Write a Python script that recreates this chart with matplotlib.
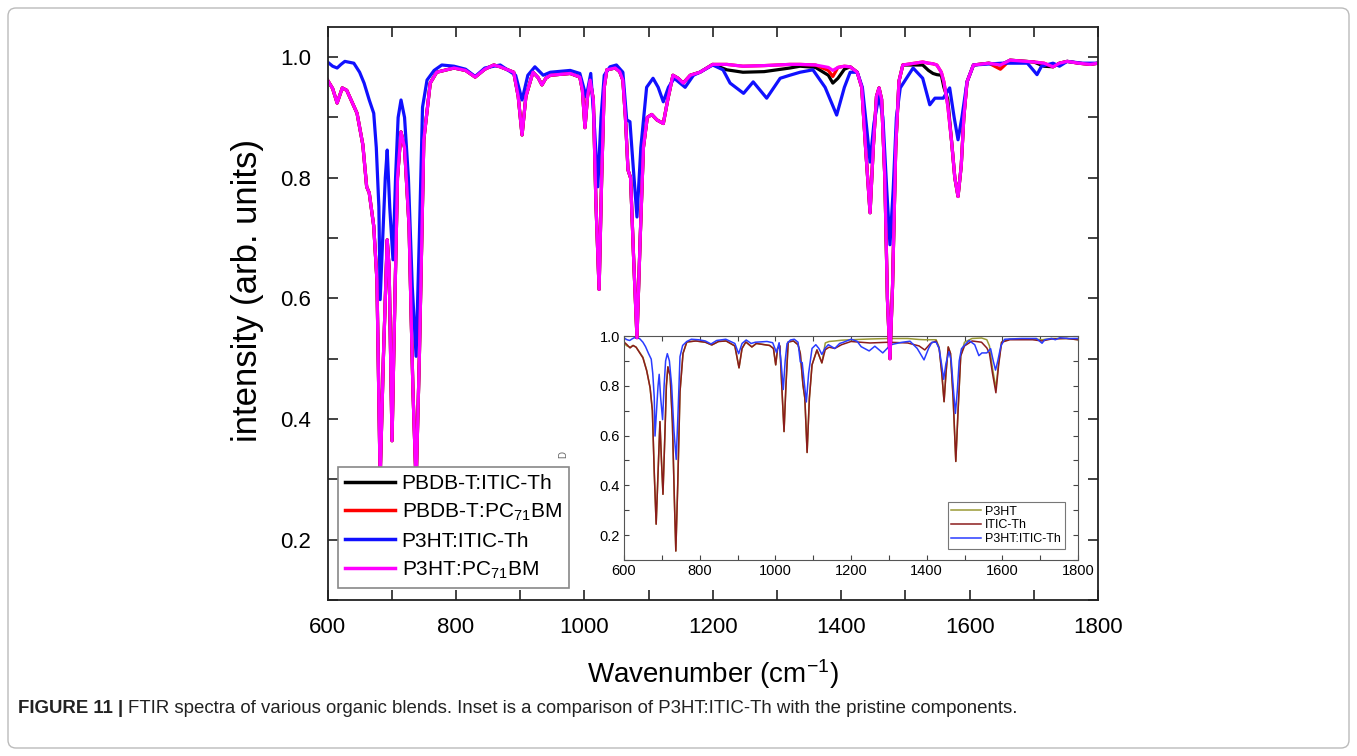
import matplotlib
matplotlib.use('Agg')
import matplotlib.pyplot as plt
from matplotlib.patches import FancyBboxPatch
from matplotlib.transforms import IdentityTransform
from matplotlib.ticker import MultipleLocator

plt.rcParams['font.family'] = ['Liberation Sans', 'DejaVu Sans']
plt.rcParams['mathtext.fontset'] = 'custom'
plt.rcParams['mathtext.rm'] = 'Liberation Sans'
plt.rcParams['mathtext.default'] = 'regular'

# main panel, shared wavenumber grid for the three PC71BM-like traces
wn_main = [600, 608, 615, 623, 630, 646, 655, 661, 665, 672,
           677, 682, 687, 693, 696, 700.5, 704, 709, 714.5, 720,
           727, 733, 738, 743, 750, 760, 770, 797, 815, 830,
           845, 859, 869, 890, 897, 903, 909, 920, 928, 934,
           940, 947, 978, 993, 997, 1001, 1005, 1009, 1014, 1018,
           1023, 1027, 1031, 1035, 1048, 1055, 1060, 1064, 1068, 1072,
           1077, 1082, 1087, 1092, 1098, 1105, 1113, 1123, 1130, 1138,
           1146, 1154, 1165, 1180, 1200, 1222, 1247, 1280, 1320, 1336,
           1360, 1380, 1387, 1395, 1405, 1414, 1425, 1432, 1438, 1445,
           1450, 1455, 1459, 1463, 1468, 1472, 1476, 1480, 1485, 1490,
           1496, 1527, 1536, 1543, 1549, 1556, 1560, 1566, 1572, 1577,
           1582, 1587, 1591, 1596, 1606, 1630, 1648, 1663, 1700, 1716,
           1730, 1740, 1752, 1770, 1788, 1800]

p3ht_pcbm = [0.962, 0.948, 0.924, 0.949, 0.945, 0.907, 0.855, 0.785, 0.775, 0.720,
             0.630, 0.300, 0.500, 0.697, 0.650, 0.364, 0.550, 0.800, 0.876, 0.850,
             0.720, 0.450, 0.290, 0.500, 0.863, 0.957, 0.975, 0.982, 0.978, 0.967,
             0.980, 0.987, 0.984, 0.975, 0.935, 0.871, 0.935, 0.975, 0.966, 0.954,
             0.965, 0.970, 0.973, 0.967, 0.945, 0.883, 0.935, 0.962, 0.930, 0.760,
             0.615, 0.800, 0.950, 0.979, 0.982, 0.976, 0.962, 0.900, 0.813, 0.800,
             0.660, 0.535, 0.700, 0.850, 0.900, 0.905, 0.896, 0.890, 0.930, 0.970,
             0.965, 0.957, 0.970, 0.975, 0.988, 0.988, 0.985, 0.986, 0.988, 0.988,
             0.987, 0.983, 0.978, 0.983, 0.985, 0.984, 0.975, 0.950, 0.850, 0.742,
             0.850, 0.935, 0.949, 0.930, 0.800, 0.600, 0.500, 0.620, 0.850, 0.960,
             0.987, 0.992, 0.990, 0.989, 0.987, 0.975, 0.959, 0.920, 0.860, 0.800,
             0.769, 0.820, 0.900, 0.959, 0.987, 0.990, 0.987, 0.995, 0.992, 0.990,
             0.984, 0.990, 0.993, 0.990, 0.988, 0.990]

pbdb_pcbm = [0.962, 0.948, 0.924, 0.949, 0.945, 0.907, 0.855, 0.785, 0.775, 0.720,
             0.630, 0.300, 0.500, 0.697, 0.650, 0.364, 0.550, 0.800, 0.876, 0.850,
             0.720, 0.450, 0.290, 0.500, 0.863, 0.957, 0.975, 0.982, 0.978, 0.967,
             0.980, 0.987, 0.984, 0.975, 0.935, 0.871, 0.935, 0.975, 0.966, 0.954,
             0.965, 0.970, 0.973, 0.967, 0.945, 0.883, 0.935, 0.962, 0.930, 0.760,
             0.615, 0.800, 0.950, 0.979, 0.982, 0.976, 0.962, 0.900, 0.813, 0.800,
             0.660, 0.535, 0.700, 0.850, 0.900, 0.905, 0.896, 0.890, 0.930, 0.970,
             0.965, 0.957, 0.970, 0.975, 0.988, 0.988, 0.985, 0.986, 0.988, 0.988,
             0.987, 0.978, 0.968, 0.983, 0.985, 0.984, 0.975, 0.950, 0.850, 0.742,
             0.850, 0.935, 0.949, 0.930, 0.800, 0.600, 0.500, 0.620, 0.850, 0.960,
             0.987, 0.992, 0.990, 0.989, 0.987, 0.975, 0.959, 0.920, 0.860, 0.800,
             0.769, 0.820, 0.900, 0.959, 0.987, 0.990, 0.980, 0.995, 0.992, 0.990,
             0.984, 0.990, 0.993, 0.990, 0.988, 0.990]

pbdb_itic = [0.962, 0.948, 0.924, 0.949, 0.945, 0.907, 0.855, 0.785, 0.775, 0.720,
             0.630, 0.300, 0.500, 0.697, 0.650, 0.364, 0.550, 0.800, 0.876, 0.850,
             0.720, 0.450, 0.290, 0.500, 0.863, 0.957, 0.975, 0.982, 0.978, 0.967,
             0.980, 0.987, 0.984, 0.975, 0.935, 0.871, 0.935, 0.975, 0.966, 0.954,
             0.965, 0.970, 0.973, 0.967, 0.945, 0.883, 0.935, 0.962, 0.930, 0.760,
             0.615, 0.800, 0.950, 0.979, 0.982, 0.976, 0.962, 0.900, 0.813, 0.800,
             0.660, 0.535, 0.700, 0.850, 0.900, 0.905, 0.896, 0.890, 0.930, 0.970,
             0.965, 0.957, 0.970, 0.975, 0.988, 0.979, 0.975, 0.976, 0.982, 0.985,
             0.983, 0.970, 0.957, 0.965, 0.980, 0.984, 0.975, 0.950, 0.850, 0.742,
             0.850, 0.935, 0.949, 0.930, 0.800, 0.600, 0.500, 0.620, 0.850, 0.960,
             0.987, 0.987, 0.978, 0.973, 0.971, 0.970, 0.950, 0.930, 0.860, 0.800,
             0.769, 0.820, 0.900, 0.959, 0.987, 0.990, 0.987, 0.995, 0.992, 0.985,
             0.984, 0.990, 0.993, 0.990, 0.988, 0.990]

# P3HT:ITIC-Th (same trace in main panel and inset)
wn_blend = [600, 608, 615, 621, 627, 641, 650, 657, 665, 672,
            676, 680, 682, 686, 690, 693, 697, 702, 706, 710,
            714.5, 720, 726, 732, 738, 743, 748, 755, 766, 778,
            797, 815, 830, 845, 869, 893, 903, 912, 923, 936,
            947, 978, 993, 1003, 1010, 1016, 1021, 1026, 1031, 1040,
            1050, 1060, 1066, 1071, 1076, 1082, 1088, 1097, 1107, 1115,
            1123, 1131, 1140, 1157, 1170, 1180, 1200, 1216, 1227, 1248,
            1263, 1284, 1305, 1320, 1336, 1356, 1375, 1393, 1405, 1414,
            1425, 1433, 1440, 1445, 1451, 1459, 1465, 1471, 1476, 1481,
            1486, 1492, 1512, 1527, 1538, 1546, 1559, 1569, 1576, 1582,
            1588, 1596, 1606, 1650, 1690, 1698, 1705, 1712, 1730, 1740,
            1752, 1775, 1800]

p3ht_itic = [0.992, 0.985, 0.982, 0.988, 0.993, 0.990, 0.975, 0.957, 0.929, 0.907,
             0.850, 0.752, 0.598, 0.700, 0.800, 0.846, 0.750, 0.664, 0.800, 0.900,
             0.929, 0.900, 0.800, 0.620, 0.504, 0.700, 0.917, 0.962, 0.978, 0.987,
             0.985, 0.980, 0.968, 0.982, 0.987, 0.970, 0.929, 0.970, 0.984, 0.970,
             0.975, 0.978, 0.973, 0.934, 0.973, 0.880, 0.785, 0.900, 0.970, 0.984,
             0.987, 0.975, 0.896, 0.893, 0.820, 0.735, 0.850, 0.950, 0.965, 0.950,
             0.926, 0.950, 0.965, 0.950, 0.970, 0.975, 0.987, 0.979, 0.957, 0.940,
             0.959, 0.932, 0.965, 0.970, 0.975, 0.979, 0.950, 0.904, 0.950, 0.975,
             0.975, 0.950, 0.880, 0.826, 0.890, 0.937, 0.900, 0.780, 0.689, 0.780,
             0.900, 0.949, 0.982, 0.965, 0.921, 0.932, 0.932, 0.949, 0.900, 0.863,
             0.900, 0.959, 0.987, 0.990, 0.990, 0.980, 0.971, 0.985, 0.990, 0.985,
             0.993, 0.990, 0.990]

# inset pristine components
wn_inset = [600, 608, 616, 624, 632, 650, 660, 669, 675, 680,
            685, 690, 695, 699, 703, 708, 712, 716, 722, 728,
            733, 737, 742, 748, 756, 766, 790, 815, 832, 850,
            870, 893, 904, 912, 922, 938, 950, 985, 995, 1001,
            1006, 1012, 1017, 1023, 1028, 1034, 1048, 1060, 1066, 1073,
            1078, 1084, 1090, 1097, 1110, 1123, 1132, 1142, 1157, 1175,
            1200, 1250, 1300, 1350, 1380, 1395, 1410, 1425, 1433, 1440,
            1446, 1451, 1457, 1463, 1470, 1477, 1483, 1490, 1500, 1520,
            1545, 1559, 1566, 1574, 1583, 1590, 1598, 1620, 1680, 1705,
            1730, 1770, 1800]

itic_th = [0.976, 0.965, 0.952, 0.962, 0.955, 0.912, 0.860, 0.792, 0.700, 0.450,
           0.244, 0.450, 0.656, 0.500, 0.364, 0.600, 0.800, 0.876, 0.840, 0.650,
           0.350, 0.136, 0.400, 0.776, 0.930, 0.976, 0.980, 0.975, 0.964, 0.978,
           0.980, 0.960, 0.872, 0.950, 0.976, 0.956, 0.970, 0.962, 0.950, 0.884,
           0.950, 0.960, 0.800, 0.616, 0.800, 0.976, 0.980, 0.965, 0.930, 0.804,
           0.750, 0.532, 0.750, 0.884, 0.944, 0.892, 0.945, 0.955, 0.950, 0.965,
           0.978, 0.972, 0.975, 0.972, 0.960, 0.944, 0.970, 0.980, 0.950, 0.850,
           0.736, 0.850, 0.956, 0.930, 0.750, 0.496, 0.700, 0.920, 0.960, 0.980,
           0.975, 0.952, 0.930, 0.850, 0.772, 0.880, 0.975, 0.985, 0.985, 0.980,
           0.988, 0.990, 0.985]

p3ht = [0.970, 0.960, 0.955, 0.962, 0.955, 0.915, 0.862, 0.792, 0.700, 0.450,
        0.244, 0.450, 0.656, 0.500, 0.364, 0.600, 0.800, 0.876, 0.840, 0.650,
        0.350, 0.136, 0.400, 0.776, 0.930, 0.976, 0.980, 0.975, 0.964, 0.978,
        0.980, 0.960, 0.872, 0.950, 0.976, 0.956, 0.970, 0.962, 0.950, 0.884,
        0.950, 0.960, 0.800, 0.616, 0.800, 0.976, 0.980, 0.965, 0.930, 0.804,
        0.750, 0.532, 0.750, 0.884, 0.944, 0.892, 0.972, 0.978, 0.980, 0.983,
        0.985, 0.988, 0.990, 0.990, 0.986, 0.985, 0.985, 0.985, 0.955, 0.850,
        0.736, 0.850, 0.956, 0.930, 0.750, 0.496, 0.700, 0.920, 0.975, 0.990,
        0.992, 0.985, 0.960, 0.870, 0.790, 0.890, 0.975, 0.988, 0.988, 0.985,
        0.990, 0.990, 0.985]

main_labels = ['PBDB-T:ITIC-Th', 'PBDB-T:PC$_{71}$BM', 'P3HT:ITIC-Th', 'P3HT:PC$_{71}$BM']
inset_labels = ['P3HT', 'ITIC-Th', 'P3HT:ITIC-Th']
caption_head = 'FIGURE 11 |'
caption_body = 'FTIR spectra of various organic blends. Inset is a comparison of P3HT:ITIC-Th with the pristine components.'

W, H = 1357, 756
fig = plt.figure(figsize=(W / 100, H / 100), dpi=100)
fig.patch.set_facecolor('white')

ax = fig.add_axes([327.5 / W, 1 - 600 / H, 770.5 / W, 573 / H])
ins = fig.add_axes([624 / W, 1 - 560 / H, 454 / W, 224 / H])
ax.set_zorder(2)
ax.patch.set_visible(False)
ins.set_zorder(1)

lw = 2.3
kw = dict(lw=lw, solid_joinstyle='round')
ax.plot(wn_main, pbdb_itic, color='black', label=main_labels[0], **kw)
ax.plot(wn_main, pbdb_pcbm, color='#ff0000', label=main_labels[1], **kw)
ax.plot(wn_blend, p3ht_itic, color='#1010ff', label=main_labels[2], **kw)
ax.plot(wn_main, p3ht_pcbm, color='#ff00ff', label=main_labels[3], **kw)

ax.set_xlim(600, 1800)
ax.set_ylim(0.1, 1.05)
ax.xaxis.set_major_locator(MultipleLocator(200))
ax.xaxis.set_minor_locator(MultipleLocator(100))
ax.yaxis.set_major_locator(MultipleLocator(0.2))
ax.yaxis.set_minor_locator(MultipleLocator(0.1))
ax.tick_params(which='both', direction='in', top=True, right=True, length=7,
               width=1.2, color='#222222')
ax.tick_params(which='major', labelsize=16, pad=12)
ax.set_yticks([0.2, 0.4, 0.6, 0.8, 1.0])
ax.set_yticklabels(['0.2', '0.4', '0.6', '0.8', '1.0'])
for s in ax.spines.values():
    s.set_linewidth(1.3)
    s.set_color('#222222')

ax.set_xlabel('Wavenumber (cm$^{-1}$)', fontsize=20)
ax.set_ylabel('intensity (arb. units)', fontsize=25)
ax.xaxis.set_label_coords(0.5, -0.1)
ax.yaxis.set_label_coords(-0.083, 0.54)

leg = ax.legend(loc='lower left', bbox_to_anchor=(0.0136, 0.021), borderaxespad=0,
                fontsize=15, handlelength=2.4, handletextpad=0.3, labelspacing=0.42,
                borderpad=0.35, fancybox=False, framealpha=1)
leg.get_frame().set_edgecolor('#888888')
leg.get_frame().set_linewidth(1.2)
for l in leg.get_lines():
    l.set_linewidth(2.5)

# inset
ilw = 1.1
ins.plot(wn_inset, p3ht, color='#9a9a35', lw=ilw, label=inset_labels[0])
ins.plot(wn_inset, itic_th, color='#8b1c1c', lw=ilw, label=inset_labels[1])
ins.plot(wn_blend, p3ht_itic, color='#2a3cff', lw=ilw, label=inset_labels[2])
ins.set_xlim(600, 1800)
ins.set_ylim(0.1, 1.0)
ins.xaxis.set_major_locator(MultipleLocator(200))
ins.xaxis.set_minor_locator(MultipleLocator(100))
ins.yaxis.set_major_locator(MultipleLocator(0.2))
ins.yaxis.set_minor_locator(MultipleLocator(0.1))
ins.tick_params(which='both', direction='in', top=True, right=True, length=3.5,
                width=0.8, color='#444444')
ins.tick_params(which='major', labelsize=10.5, pad=3)
ins.set_yticks([0.2, 0.4, 0.6, 0.8, 1.0])
ins.set_yticklabels(['0.2', '0.4', '0.6', '0.8', '1.0'])
for s in ins.spines.values():
    s.set_linewidth(0.8)
    s.set_color('#555555')
ileg = ins.legend(loc='lower right', bbox_to_anchor=(0.971, 0.049), borderaxespad=0,
                  fontsize=9, handlelength=2.4, handletextpad=0.3, labelspacing=0.15,
                  borderpad=0.3, fancybox=False, framealpha=1)
ileg.get_frame().set_edgecolor('#777777')
ileg.get_frame().set_linewidth(0.8)

fig.text(563 / W, 1 - 455 / H, 'D', rotation=90, fontsize=7, color='#666666',
         ha='center', va='center')

# outer frame and caption
frame = FancyBboxPatch((8, 8), W - 16, H - 16, boxstyle='round,pad=0,rounding_size=8',
                       transform=IdentityTransform(), facecolor='none',
                       edgecolor='#bbbbbb', linewidth=1.0)
fig.patches.append(frame)

cy = 1 - 713 / H
t1 = fig.text(18 / W, cy, caption_head, fontsize=13.4, fontweight='bold',
              color='#222222', va='baseline')
r = fig.canvas.get_renderer()
bb = t1.get_window_extent(r)
fig.text((bb.x1 + 5) / W, cy, caption_body, fontsize=13.4, color='#222222', va='baseline')

fig.savefig('out.png', dpi=100)
